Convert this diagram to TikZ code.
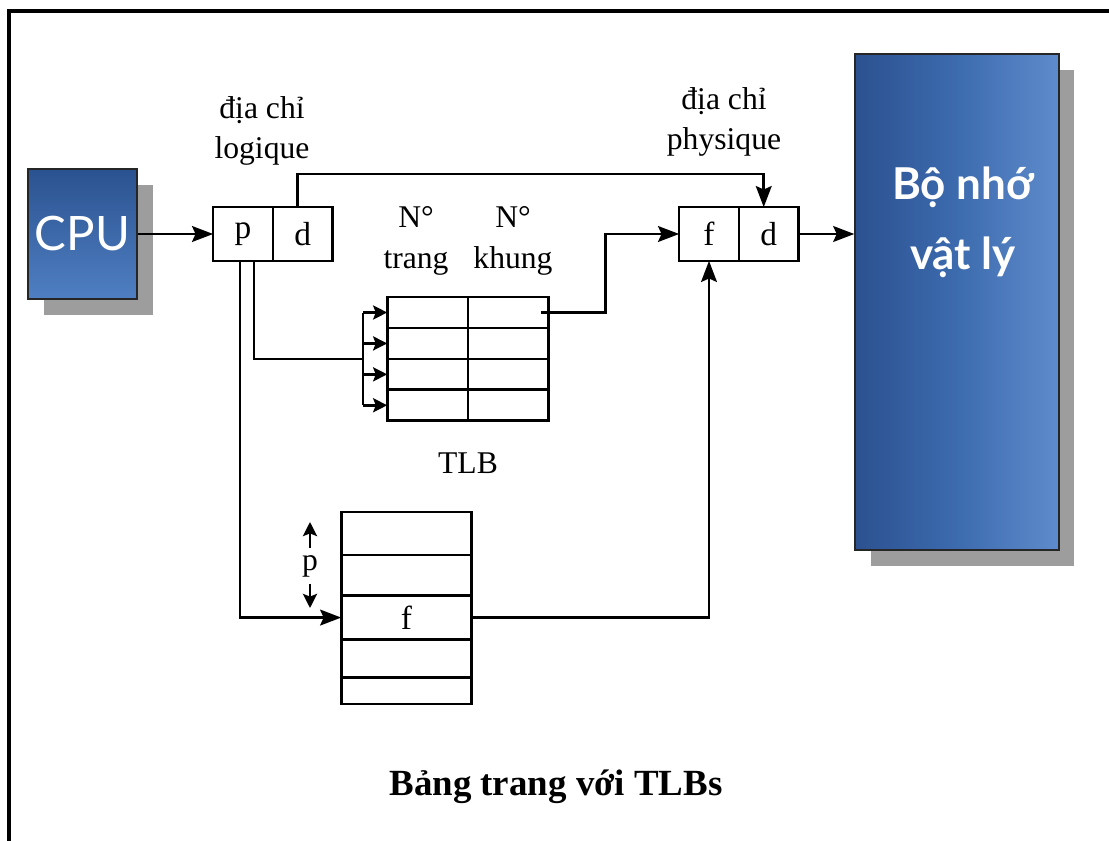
\documentclass[tikz,border=0pt]{standalone}
\usepackage{fontspec}
\setmainfont{Liberation Serif}
\newfontfamily\labelsans{Lato}
\usepackage{tikz}
\usetikzlibrary{arrows.meta, positioning, calc, shadows}
\definecolor{cpudark}{HTML}{2B5290}
\definecolor{cpulight}{HTML}{4F7FC2}
\definecolor{memdark}{HTML}{2C5190}
\definecolor{memmid}{HTML}{3C6BAE}
\definecolor{memlight}{HTML}{5E8BCB}
\definecolor{shadowgray}{HTML}{8C8C8C}

\begin{document}
\begin{tikzpicture}[
    x=0.02cm, y=-0.02cm,
    line width=1.5pt,
    cpu_node/.style={rectangle, top color=cpudark, bottom color=cpulight, draw=black!85, line width=1.2pt, minimum width=61.8pt, minimum height=74.3pt, text=white, font=\labelsans\fontsize{27}{30}\selectfont, drop shadow={shadow xshift=9pt, shadow yshift=-9pt, fill=shadowgray, opacity=0.85}},
    mem_node/.style={rectangle, left color=memdark, right color=memlight, middle color=memmid, draw=black!85, line width=1.2pt, minimum width=115.7pt, minimum height=282.4pt, drop shadow={shadow xshift=9pt, shadow yshift=-9pt, fill=shadowgray, opacity=0.85}},
    mem_text/.style={text=white, align=center, font=\labelsans\bfseries\fontsize{25}{40}\selectfont},
    addr_cell/.style={rectangle, draw, minimum width=34pt, minimum height=30.6pt, inner sep=0pt, outer sep=0pt, font=\fontsize{19}{22}\selectfont},
    tlb_cell/.style={rectangle, draw, minimum width=45.9pt, minimum height=17.6pt, inner sep=0pt, outer sep=0pt},
    page_row/.style={rectangle, draw, minimum width=74.3pt, inner sep=0pt, outer sep=0pt, font=\fontsize{19}{22}\selectfont},
    note/.style={align=center, font=\fontsize{18}{23}\selectfont},
    arrow/.style={-{Stealth[length=12pt, width=9pt, inset=2pt]}},
    small_arrow/.style={-{Stealth[length=8pt, width=8pt, inset=1.5pt]}},
    frame_line/.style={line width=1.8pt}
]
\useasboundingbox (0,0) rectangle (1109,841);

% Frame
\draw[frame_line] (9,841) -- (9,11) -- (1109,11);

% Processor and memory
\node[cpu_node] (cpu) at (82.5,234) {CPU};
\node[mem_node] (mem) at (957,302) {};
\node[mem_text] (memtext) at (963,222) {Bộ nhớ\\vật lý};

% Logical address
\node[addr_cell] (pcell) at (243,234) {p};
\node[addr_cell, right=0pt of pcell] (dcell) {d};
\node[note] (lognote) at (262,131) {địa chỉ\\logique};

% Physical address
\node[addr_cell] (fcell) at (709,234) {f};
\node[addr_cell, right=0pt of fcell] (d2cell) {d};
\node[note] (physnote) at (724,122) {địa chỉ\\physique};

% TLB
\node[tlb_cell] (k1) at (427.5,312.5) {};
\node[tlb_cell, right=0pt of k1] (v1) {};
\node[tlb_cell, below=0pt of k1] (k2) {};
\node[tlb_cell, right=0pt of k2] (v2) {};
\node[tlb_cell, below=0pt of k2] (k3) {};
\node[tlb_cell, right=0pt of k3] (v3) {};
\node[tlb_cell, below=0pt of k3] (k4) {};
\node[tlb_cell, right=0pt of k4] (v4) {};
\node[note] (tlbpage) at (416,241) {N°\\trang};
\node[note] (tlbframe) at (513,241) {N°\\khung};
\node[note] (tlbname) at (468,463) {TLB};

% Page table
\node[page_row, minimum height=24.4pt] (pt1) at (406.5,533.5) {};
\node[page_row, minimum height=23.2pt, below=0pt of pt1] (pt2) {};
\node[page_row, minimum height=24.9pt, below=0pt of pt2] (pt3) {f};
\node[page_row, minimum height=21.5pt, below=0pt of pt3] (pt4) {};
\node[page_row, minimum height=15.3pt, below=0pt of pt4] (pt5) {};
\node[note] (pidx) at (310,566) {p};
\coordinate (pup) at (310,522);
\coordinate (pdown) at (310,608);
\draw[small_arrow] (pidx) -- (pup);
\draw[small_arrow] (pidx) -- (pdown);

% Connections
\draw[arrow] (cpu) -- (pcell);
\draw[arrow] ($(dcell.north)+(-5,0)$) -- ++(0,-33) -| ($(d2cell.north)+(-5,0)$);
\draw[arrow] (d2cell) -- (d2cell -| mem.west);
\draw[arrow] ($(v1.east)+(-7,0)$) -- ++(64,0) |- (fcell);
\draw[arrow] (pt3) -| (fcell);
\draw[arrow] ($(pcell.south)+(-3,0)$) |- (pt3);

% Associative lookup
\coordinate (bus) at (363,359);
\draw ($(pcell.south)+(11,0)$) |- (bus);
\draw (k1.west -| bus) -- (k4.west -| bus);
\draw[small_arrow] (k1.west -| bus) -- (k1.west);
\draw[small_arrow] (k2.west -| bus) -- (k2.west);
\draw[small_arrow] (k3.west -| bus) -- (k3.west);
\draw[small_arrow] (k4.west -| bus) -- (k4.west);

% Caption
\node[font=\bfseries\fontsize{21}{24}\selectfont] (caption) at (556,787) {Bảng trang với TLBs};

\end{tikzpicture}
\end{document}
